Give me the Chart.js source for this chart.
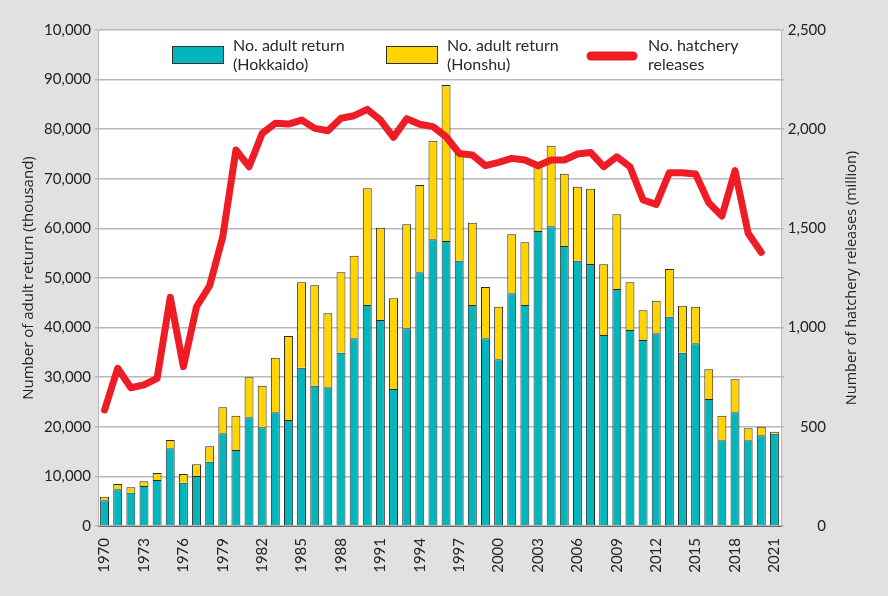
<!DOCTYPE html>
<html>
<head>
<meta charset="utf-8">
<script src="https://cdn.jsdelivr.net/npm/chart.js@4.4.1/dist/chart.umd.min.js"></script>
<style>
  html, body { margin: 0; padding: 0; background: #e1e1e1; }
</style>
</head>
<body>
<canvas id="grafico" width="888" height="596"></canvas>
<script>
// anos (categorias)
const years = ['1970','1971','1972','1973','1974','1975','1976','1977','1978','1979',
  '1980','1981','1982','1983','1984','1985','1986','1987','1988','1989',
  '1990','1991','1992','1993','1994','1995','1996','1997','1998','1999',
  '2000','2001','2002','2003','2004','2005','2006','2007','2008','2009',
  '2010','2011','2012','2013','2014','2015','2016','2017','2018','2019',
  '2020','2021']

// retorno adulto (mil)
const hokkaido = [5200, 7400, 6720, 8060, 9270, 15660, 8740, 10080, 12970, 18690,
  15320, 21910, 19890, 22920, 21370, 31920, 28290, 27960, 34950, 37830,
  44560, 41530, 27620, 39850, 51140, 57800, 57460, 53490, 44560, 37830,
  33600, 46910, 44560, 59470, 60420, 56450, 53490, 52820, 38510, 47780,
  39520, 37500, 38840, 42200, 34950, 36830, 25600, 17270, 22920, 17270,
  18280, 18620]

const honshu = [700, 1070, 1080, 950, 1420, 1680, 1740, 2350, 3090, 5240,
  6920, 8070, 8400, 11020, 16930, 17210, 20230, 14920, 16190, 16670,
  23520, 18620, 18280, 20970, 17610, 19890, 31450, 21510, 16590, 10360,
  10620, 11890, 12630, 13530, 16260, 14580, 14920, 15190, 14250, 15060,
  9610, 5980, 6590, 9610, 9470, 7390, 5990, 4970, 6650, 2420,
  1740, 400]

// solturas (milhoes)
const releases = [585, 795, 697, 711, 744, 1153, 803, 1105, 1211, 1458,
  1895, 1811, 1979, 2030, 2026, 2046, 2004, 1992, 2055, 2068,
  2100, 2046, 1959, 2053, 2025, 2013, 1962, 1878, 1870, 1816,
  1833, 1853, 1845, 1816, 1845, 1845, 1875, 1883, 1811, 1861,
  1811, 1643, 1621, 1781, 1781, 1774, 1629, 1562, 1791, 1475,
  1379, null]

const xTickLabels = ['1970','1973','1976','1979','1982','1985','1988','1991','1994',
  '1997','2000','2003','2006','2009','2012','2015','2018','2021']
const leftTickLabels = ['0','10,000','20,000','30,000','40,000','50,000','60,000',
  '70,000','80,000','90,000','10,000']
const rightTickLabels = ['0','','500','','1,000','','1,500','','2,000','','2,500']

const tituloEsq = 'Number of adult return (thousand)'
const tituloDir = 'Number of hatchery releases (million)'

const corTeal = '#03b6bb'
const corAmarelo = '#ffd400'
const corVermelho = '#ee1d25'

const fundoArea = {
  id: 'fundoArea',
  beforeDraw(chart) {
    const { ctx, chartArea: a } = chart
    ctx.save()
    ctx.fillStyle = '#ffffff'
    ctx.fillRect(a.left, a.top, a.right - a.left, a.bottom - a.top)
    ctx.restore()
  }
}

// titulo do eixo direito lido de baixo para cima
const tituloDireito = {
  id: 'tituloDireito',
  afterDraw(chart) {
    const { ctx, chartArea: a } = chart
    ctx.save()
    ctx.translate(852, (a.top + a.bottom) / 2)
    ctx.rotate(-Math.PI / 2)
    ctx.font = '14.5px "Open Sans"'
    ctx.fillStyle = '#222'
    ctx.textAlign = 'center'
    ctx.textBaseline = 'middle'
    ctx.fillText(tituloDir, 0, 0)
    ctx.restore()
  }
}

// legenda desenhada a mao (rotulos em duas linhas)
const legenda = {
  id: 'legenda',
  afterDraw(chart) {
    const ctx = chart.ctx
    const itens = [
      { ds: chart.data.datasets[1], x: 172 },
      { ds: chart.data.datasets[2], x: 386 },
      { ds: chart.data.datasets[0], x: 587 }
    ]
    ctx.save()
    ctx.font = '16px Lato'
    ctx.textBaseline = 'middle'
    itens.forEach(it => {
      if (it.ds.type === 'line') {
        ctx.strokeStyle = it.ds.borderColor
        ctx.lineWidth = 9
        ctx.lineCap = 'round'
        ctx.beginPath()
        ctx.moveTo(it.x + 4, 56)
        ctx.lineTo(it.x + 46, 56)
        ctx.stroke()
      } else {
        ctx.fillStyle = it.ds.backgroundColor
        ctx.fillRect(it.x, 46, 51, 17)
        ctx.strokeStyle = '#333'
        ctx.lineWidth = 1
        ctx.strokeRect(it.x + 0.5, 46.5, 51, 17)
      }
      ctx.fillStyle = '#2a2a2a'
      it.ds.label.split('\n').forEach((linha, i) => {
        ctx.fillText(linha, it.x + 61, 46 + i * 19)
      })
    })
    ctx.restore()
  }
}

new Chart(document.getElementById('grafico'), {
  data: {
    labels: years,
    datasets: [
      {
        type: 'line',
        label: 'No. hatchery\nreleases',
        data: releases,
        yAxisID: 'y2',
        borderColor: corVermelho,
        borderWidth: 7,
        borderCapStyle: 'round',
        borderJoinStyle: 'round',
        pointRadius: 0,
        tension: 0,
        order: 0
      },
      {
        type: 'bar',
        label: 'No. adult return\n(Hokkaido)',
        data: hokkaido,
        backgroundColor: corTeal,
        borderColor: '#2b2b2b',
        borderWidth: 1,
        barPercentage: 0.68,
        categoryPercentage: 1,
        stack: 'ret',
        order: 1
      },
      {
        type: 'bar',
        label: 'No. adult return\n(Honshu)',
        data: honshu,
        backgroundColor: corAmarelo,
        borderColor: '#2b2b2b',
        borderWidth: 1,
        barPercentage: 0.68,
        categoryPercentage: 1,
        stack: 'ret',
        order: 2
      }
    ]
  },
  options: {
    responsive: false,
    animation: false,
    layout: { padding: { top: 30, left: 20, right: 62, bottom: 0 } },
    plugins: {
      legend: { display: false },
      tooltip: { enabled: false }
    },
    scales: {
      x: {
        stacked: true,
        grid: { display: false },
        border: { color: '#666', width: 1 },
        ticks: {
          autoSkip: false,
          minRotation: 90,
          maxRotation: 90,
          padding: 4,
          color: '#222',
          font: { family: 'Lato', size: 15 },
          callback: (v, i) => xTickLabels.includes(years[i]) ? years[i] : ''
        },
        afterFit: s => { s.height = 70 }
      },
      y: {
        stacked: true,
        min: 0,
        max: 100000,
        ticks: {
          stepSize: 10000,
          padding: 4,
          color: '#222',
          font: { family: 'Lato', size: 15 },
          callback: (v, i) => leftTickLabels[i]
        },
        grid: { color: '#b8b8b8', lineWidth: 1.5, tickLength: 3 },
        border: { color: '#b8b8b8' },
        title: {
          display: true,
          text: tituloEsq,
          color: '#222',
          font: { family: 'Open Sans', size: 15 },
          padding: 0
        },
        afterFit: s => { s.width = 78 }
      },
      y2: {
        position: 'right',
        min: 0,
        max: 2500,
        ticks: {
          stepSize: 250,
          padding: 6,
          crossAlign: 'far',
          color: '#222',
          font: { family: 'Lato', size: 15 },
          callback: (v, i) => rightTickLabels[i]
        },
        grid: { drawOnChartArea: false, color: '#b8b8b8', lineWidth: 1.5, tickLength: 3 },
        border: { color: '#b8b8b8' },
        afterFit: s => { s.width = 45 }
      }
    }
  },
  plugins: [fundoArea, tituloDireito, legenda]
})
</script>
</body>
</html>
